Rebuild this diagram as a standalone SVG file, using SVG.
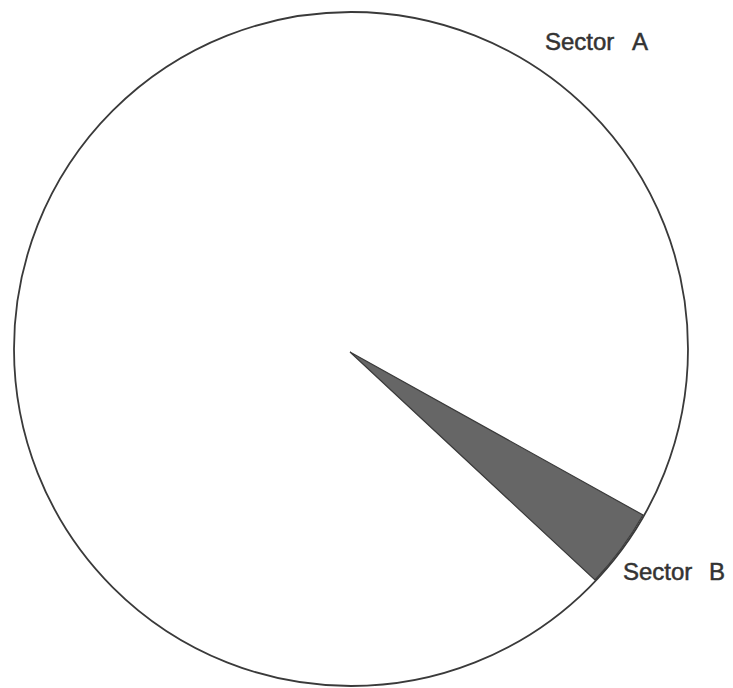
<svg xmlns="http://www.w3.org/2000/svg" width="733" height="688" viewBox="0 0 733 688">
<style>
.lbl{font-family:"Liberation Sans",Arial,sans-serif;font-size:24px;fill:#333;stroke:#333;stroke-width:0.5}
.circ{fill:none;stroke:#3a3a3a;stroke-width:1.8}
.sec{fill:#666;stroke:#3a3a3a;stroke-width:1.2}
</style>
<rect width="733" height="688" fill="#fff"/>
<g id="sectorA">
<circle class="circ" cx="351" cy="349" r="337"/>
<text class="lbl" x="545" y="50">Sector<tspan x="632">A</tspan></text>
</g>
<g id="sectorB">
<path class="sec" d="M350,352 L643,515 A337,337 0 0 1 595,580 Z"/>
<text class="lbl" x="623" y="580">Sector<tspan x="709">B</tspan></text>
</g>
</svg>
